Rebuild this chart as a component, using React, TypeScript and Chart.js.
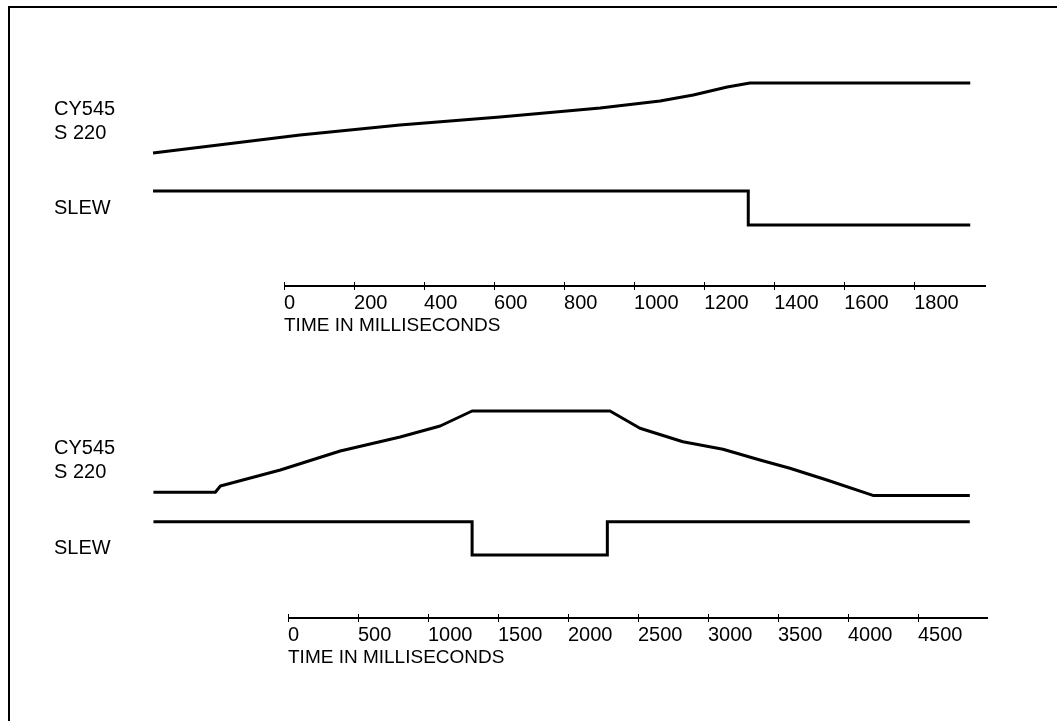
import React, { useEffect, useRef } from 'react';
import { Chart, registerables } from 'chart.js';

Chart.register(...registerables);

const FONT = "'Liberation Sans', Arial, Helvetica, sans-serif";

// ---------- shared text ----------
const axisTitle = 'TIME IN MILLISECONDS';
const channelLabels: (string | string[])[] = ['SLEW', ['CY545', 'S 220']];

// ---------- top panel data ----------
const topTickValues = [0, 200, 400, 600, 800, 1000, 1200, 1400, 1600, 1800];
const topTickLabels = ['0', '200', '400', '600', '800', '1000', '1200', '1400', '1600', '1800'];
const topTimeRange = [0, 2005];
const topLevelRange = [0, 111];
const topLabelLevels = [37, 80.5];
const topCyTime = [-374, 46, 331, 617, 903, 1074, 1169, 1266, 1331, 1960];
const topCyLevel = [64.5, 73.5, 78.5, 82.5, 87, 90.5, 93.5, 97.5, 99.5, 99.5];
const topSlewTime = [-374, 1326, 1960];
const topSlewLevel = [45.5, 28.5, 28.5];

// ---------- bottom panel data ----------
const bottomTickValues = [0, 500, 1000, 1500, 2000, 2500, 3000, 3500, 4000, 4500];
const bottomTickLabels = ['0', '500', '1000', '1500', '2000', '2500', '3000', '3500', '4000', '4500'];
const bottomTimeRange = [0, 5000];
const bottomLevelRange = [0, 107];
const bottomLabelLevels = [33, 77];
const bottomCyTime = [-961, -519, -483, -55, 373, 801, 1087, 1315, 2300, 2514, 2821, 3107, 3371, 3585, 3849, 4178, 4870];
const bottomCyLevel = [60.85, 60.85, 64, 72, 81.5, 88.5, 94, 101.5, 101.5, 92.85, 86.15, 82.35, 77, 72.85, 67, 59.3, 59.3];
const bottomSlewTime = [-961, 1315, 2281, 4870];
const bottomSlewLevel = [46.15, 29.5, 46.15, 46.15];

type Panel = {
  tickValues: number[];
  tickLabels: string[];
  timeRange: number[];
  levelRange: number[];
  labelLevels: number[];
  cyTime: number[];
  cyLevel: number[];
  slewTime: number[];
  slewLevel: number[];
  layout: {
    top: number;
    height: number;
    padTop: number;
    padBottom: number;
    padLeft: number;
    padRight: number;
    yAxisWidth: number;
    xAxisHeight: number;
  };
};

const panels: Panel[] = [
  {
    tickValues: topTickValues,
    tickLabels: topTickLabels,
    timeRange: topTimeRange,
    levelRange: topLevelRange,
    labelLevels: topLabelLevels,
    cyTime: topCyTime,
    cyLevel: topCyLevel,
    slewTime: topSlewTime,
    slewLevel: topSlewLevel,
    layout: { top: 0, height: 345, padTop: 60, padBottom: 3, padLeft: 54, padRight: 71, yAxisWidth: 230, xAxisHeight: 60 },
  },
  {
    tickValues: bottomTickValues,
    tickLabels: bottomTickLabels,
    timeRange: bottomTimeRange,
    levelRange: bottomLevelRange,
    labelLevels: bottomLabelLevels,
    cyTime: bottomCyTime,
    cyLevel: bottomCyLevel,
    slewTime: bottomSlewTime,
    slewLevel: bottomSlewLevel,
    layout: { top: 345, height: 360, padTop: 55, padBottom: 31, padLeft: 54, padRight: 69, yAxisWidth: 234, xAxisHeight: 60 },
  },
];

const axisLinePlugin = {
  id: 'axisLine',
  afterDraw(chart: any) {
    const s = chart.scales.x;
    const ctx = chart.ctx;
    ctx.save();
    ctx.strokeStyle = '#000';
    ctx.lineWidth = 2;
    ctx.beginPath();
    ctx.moveTo(s.getPixelForValue(s.min), s.top + 4);
    ctx.lineTo(s.getPixelForValue(s.max), s.top + 4);
    ctx.stroke();
    ctx.restore();
  },
};

function PanelChart({ panel }: { panel: Panel }) {
  const ref = useRef<HTMLCanvasElement | null>(null);
  useEffect(() => {
    if (!ref.current) return;
    const L = panel.layout;
    const cyData = panel.cyTime.map((t, i) => ({ x: t, y: panel.cyLevel[i] }));
    const slewData = panel.slewTime.map((t, i) => ({ x: t, y: panel.slewLevel[i] }));
    const chart = new Chart(ref.current, {
      type: 'line',
      data: {
        datasets: [
          {
            label: 'CY545 S 220',
            data: cyData,
            borderColor: '#000',
            borderWidth: 3,
            pointRadius: 0,
            tension: 0,
            clip: false as any,
            borderJoinStyle: 'round',
          },
          {
            label: 'SLEW',
            data: slewData,
            borderColor: '#000',
            borderWidth: 3,
            pointRadius: 0,
            stepped: 'before',
            clip: false as any,
            borderJoinStyle: 'miter',
          },
        ],
      },
      options: {
        animation: false,
        responsive: false,
        maintainAspectRatio: false,
        events: [],
        layout: {
          padding: { top: L.padTop, bottom: L.padBottom, left: L.padLeft, right: L.padRight },
        },
        plugins: {
          legend: { display: false },
          tooltip: { enabled: false },
          title: { display: false },
        },
        scales: {
          x: {
            type: 'linear',
            position: 'bottom',
            bounds: 'data',
            afterDataLimits: (s: any) => {
              s.min = panel.timeRange[0];
              s.max = panel.timeRange[1];
            },
            afterBuildTicks: (s: any) => {
              s.ticks = panel.tickValues.map((v) => ({ value: v }));
            },
            afterFit: (s: any) => {
              s.height = L.xAxisHeight;
            },
            border: { display: false },
            grid: {
              display: true,
              drawOnChartArea: false,
              drawTicks: true,
              tickLength: 8,
              color: '#000',
              lineWidth: 1,
            },
            ticks: {
              autoSkip: false,
              maxRotation: 0,
              minRotation: 0,
              align: 'start',
              padding: 1,
              color: '#000',
              font: { family: FONT, size: 20, lineHeight: 1.2 },
              callback: (_v: any, i: number) => panel.tickLabels[i],
            },
            title: {
              display: true,
              text: axisTitle,
              align: 'start',
              color: '#000',
              font: { family: FONT, size: 19, lineHeight: 1.2 },
              padding: { top: 0, bottom: 5 },
            },
          },
          y: {
            type: 'linear',
            position: 'left',
            min: panel.levelRange[0],
            max: panel.levelRange[1],
            afterBuildTicks: (s: any) => {
              s.ticks = panel.labelLevels.map((v) => ({ value: v }));
            },
            afterFit: (s: any) => {
              s.width = L.yAxisWidth;
            },
            border: { display: false },
            grid: { display: false },
            ticks: {
              autoSkip: false,
              crossAlign: 'far',
              color: '#000',
              font: { family: FONT, size: 20, lineHeight: 1.2 },
              callback: (_v: any, i: number) => channelLabels[i] as any,
            },
          },
        },
      },
      plugins: [axisLinePlugin],
    } as any);
    return () => chart.destroy();
  }, [panel]);
  const L = panel.layout;
  return (
    <canvas
      ref={ref}
      width={1057}
      height={L.height}
      style={{ position: 'absolute', left: 0, top: L.top, width: 1057, height: L.height, display: 'block' }}
    />
  );
}

export default function App() {
  return (
    <div style={{ position: 'fixed', left: 0, top: 0, width: 1057, height: 721, overflow: 'hidden', background: '#fff' }}>
      <div
        style={{
          position: 'absolute',
          left: 8,
          top: 6,
          width: 1049,
          height: 715,
          boxSizing: 'border-box',
          borderLeft: '2px solid #000',
          borderTop: '2px solid #000',
        }}
      />
      {panels.map((p, i) => (
        <PanelChart key={i} panel={p} />
      ))}
    </div>
  );
}
